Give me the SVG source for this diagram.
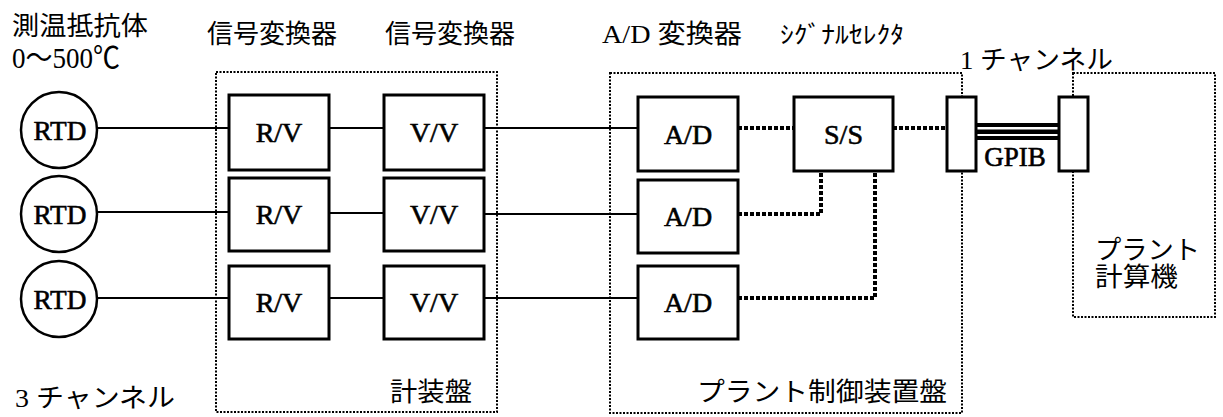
<svg xmlns="http://www.w3.org/2000/svg" width="1223" height="417" viewBox="0 0 1223 417">
<style>
.bg{fill:#fff}
.panel{fill:none;stroke:#000;stroke-width:2;stroke-dasharray:2 1.5}
.box{fill:#fff;stroke:#000;stroke-width:3}
.circ{fill:#fff;stroke:#000;stroke-width:2.5}
.wire{stroke:#000;stroke-width:2;fill:none}
.dwire{stroke:#000;stroke-width:4;fill:none;stroke-dasharray:4 2}
.lbl{font-family:"Liberation Serif","Noto Sans CJK JP",serif;font-size:28px;fill:#000;stroke:#000;stroke-width:0.6;text-anchor:middle}
.jp{font-family:"Liberation Serif","Noto Sans CJK JP",serif;font-size:26px;fill:#000}
</style>
<rect class="bg" x="0" y="0" width="1223" height="417"/>

<g id="panel-keisoban">
<rect class="panel" x="216" y="72" width="281" height="340"/>
<text class="jp" x="390" y="401" textLength="82" lengthAdjust="spacingAndGlyphs">計装盤</text>
</g>
<g id="panel-plant-control">
<rect class="panel" x="610" y="73" width="352" height="340"/>
<text class="jp" x="697" y="401" textLength="250" lengthAdjust="spacingAndGlyphs">プラント制御装置盤</text>
</g>
<g id="panel-plant-computer">
<rect class="panel" x="1073" y="73" width="142" height="244"/>
<text class="jp" x="1095" y="259" textLength="105" lengthAdjust="spacingAndGlyphs">プラント</text>
<text class="jp" x="1095" y="286" textLength="83" lengthAdjust="spacingAndGlyphs">計算機</text>
</g>

<g id="connectors">
<line class="wire" x1="97" y1="128" x2="229" y2="128"/>
<line class="wire" x1="97" y1="212" x2="229" y2="212"/>
<line class="wire" x1="97" y1="298" x2="229" y2="298"/>
<line class="wire" x1="329" y1="128" x2="384" y2="128"/>
<line class="wire" x1="329" y1="213" x2="384" y2="213"/>
<line class="wire" x1="329" y1="298" x2="384" y2="298"/>
<line class="wire" x1="484" y1="128" x2="638" y2="128"/>
<line class="wire" x1="484" y1="214" x2="638" y2="214"/>
<line class="wire" x1="484" y1="298" x2="638" y2="298"/>
<line class="dwire" x1="738" y1="128" x2="794" y2="128"/>
<line class="dwire" x1="893" y1="128" x2="947" y2="128"/>
<polyline class="dwire" points="738,214 821,214 821,171"/>
<polyline class="dwire" points="738,298 875,298 875,171"/>
<rect x="976" y="123" width="83" height="4" fill="#000"/>
<rect x="976" y="129.5" width="83" height="4.5" fill="#000"/>
<rect x="976" y="136" width="83" height="4" fill="#000"/>
</g>

<g id="rtd1"><circle class="circ" cx="59" cy="130" r="38"/><text class="lbl" x="60" y="140" textLength="53" lengthAdjust="spacingAndGlyphs">RTD</text></g>
<g id="rtd2"><circle class="circ" cx="59" cy="214" r="38"/><text class="lbl" x="60" y="224" textLength="53" lengthAdjust="spacingAndGlyphs">RTD</text></g>
<g id="rtd3"><circle class="circ" cx="59" cy="299" r="38"/><text class="lbl" x="60" y="309" textLength="53" lengthAdjust="spacingAndGlyphs">RTD</text></g>

<g id="rv1"><rect class="box" x="229" y="95" width="100" height="75"/><text class="lbl" x="279" y="142">R/V</text></g>
<g id="rv2"><rect class="box" x="229" y="178" width="100" height="73"/><text class="lbl" x="279" y="224">R/V</text></g>
<g id="rv3"><rect class="box" x="229" y="266" width="100" height="73"/><text class="lbl" x="279" y="312">R/V</text></g>

<g id="vv1"><rect class="box" x="384" y="95" width="100" height="75"/><text class="lbl" x="434" y="142">V/V</text></g>
<g id="vv2"><rect class="box" x="384" y="178" width="100" height="73"/><text class="lbl" x="434" y="224">V/V</text></g>
<g id="vv3"><rect class="box" x="384" y="266" width="100" height="73"/><text class="lbl" x="434" y="312">V/V</text></g>

<g id="ad1"><rect class="box" x="638" y="97" width="100" height="74"/><text class="lbl" x="688" y="144">A/D</text></g>
<g id="ad2"><rect class="box" x="638" y="180" width="100" height="73"/><text class="lbl" x="688" y="226">A/D</text></g>
<g id="ad3"><rect class="box" x="638" y="266" width="100" height="73"/><text class="lbl" x="688" y="312">A/D</text></g>

<g id="ss"><rect class="box" x="794" y="97" width="99" height="74"/><text class="lbl" x="843.5" y="144">S/S</text></g>

<g id="gpib-left"><rect class="box" x="947" y="97" width="29" height="74"/></g>
<g id="gpib-right"><rect class="box" x="1059" y="97" width="29" height="74"/></g>

<g id="labels">
<text class="jp" x="12" y="35" textLength="136" lengthAdjust="spacingAndGlyphs">測温抵抗体</text>
<text class="jp" x="12" y="68" style="font-size:30px" textLength="108" lengthAdjust="spacingAndGlyphs">0～500℃</text>
<text class="jp" x="207" y="43" textLength="130" lengthAdjust="spacingAndGlyphs">信号変換器</text>
<text class="jp" x="385" y="43" textLength="130" lengthAdjust="spacingAndGlyphs">信号変換器</text>
<text class="jp" x="602" y="43" textLength="140" lengthAdjust="spacingAndGlyphs">A/D 変換器</text>
<text class="jp" x="780" y="43" style="font-size:24px" textLength="124" lengthAdjust="spacingAndGlyphs">ｼｸﾞﾅﾙｾﾚｸﾀ</text>
<text class="jp" x="960" y="69" textLength="153" lengthAdjust="spacingAndGlyphs">1 チャンネル</text>
<text class="lbl" x="1015" y="166" style="font-size:27px">GPIB</text>
<text class="jp" x="15" y="407" textLength="160" lengthAdjust="spacingAndGlyphs">3 チャンネル</text>
</g>
</svg>
